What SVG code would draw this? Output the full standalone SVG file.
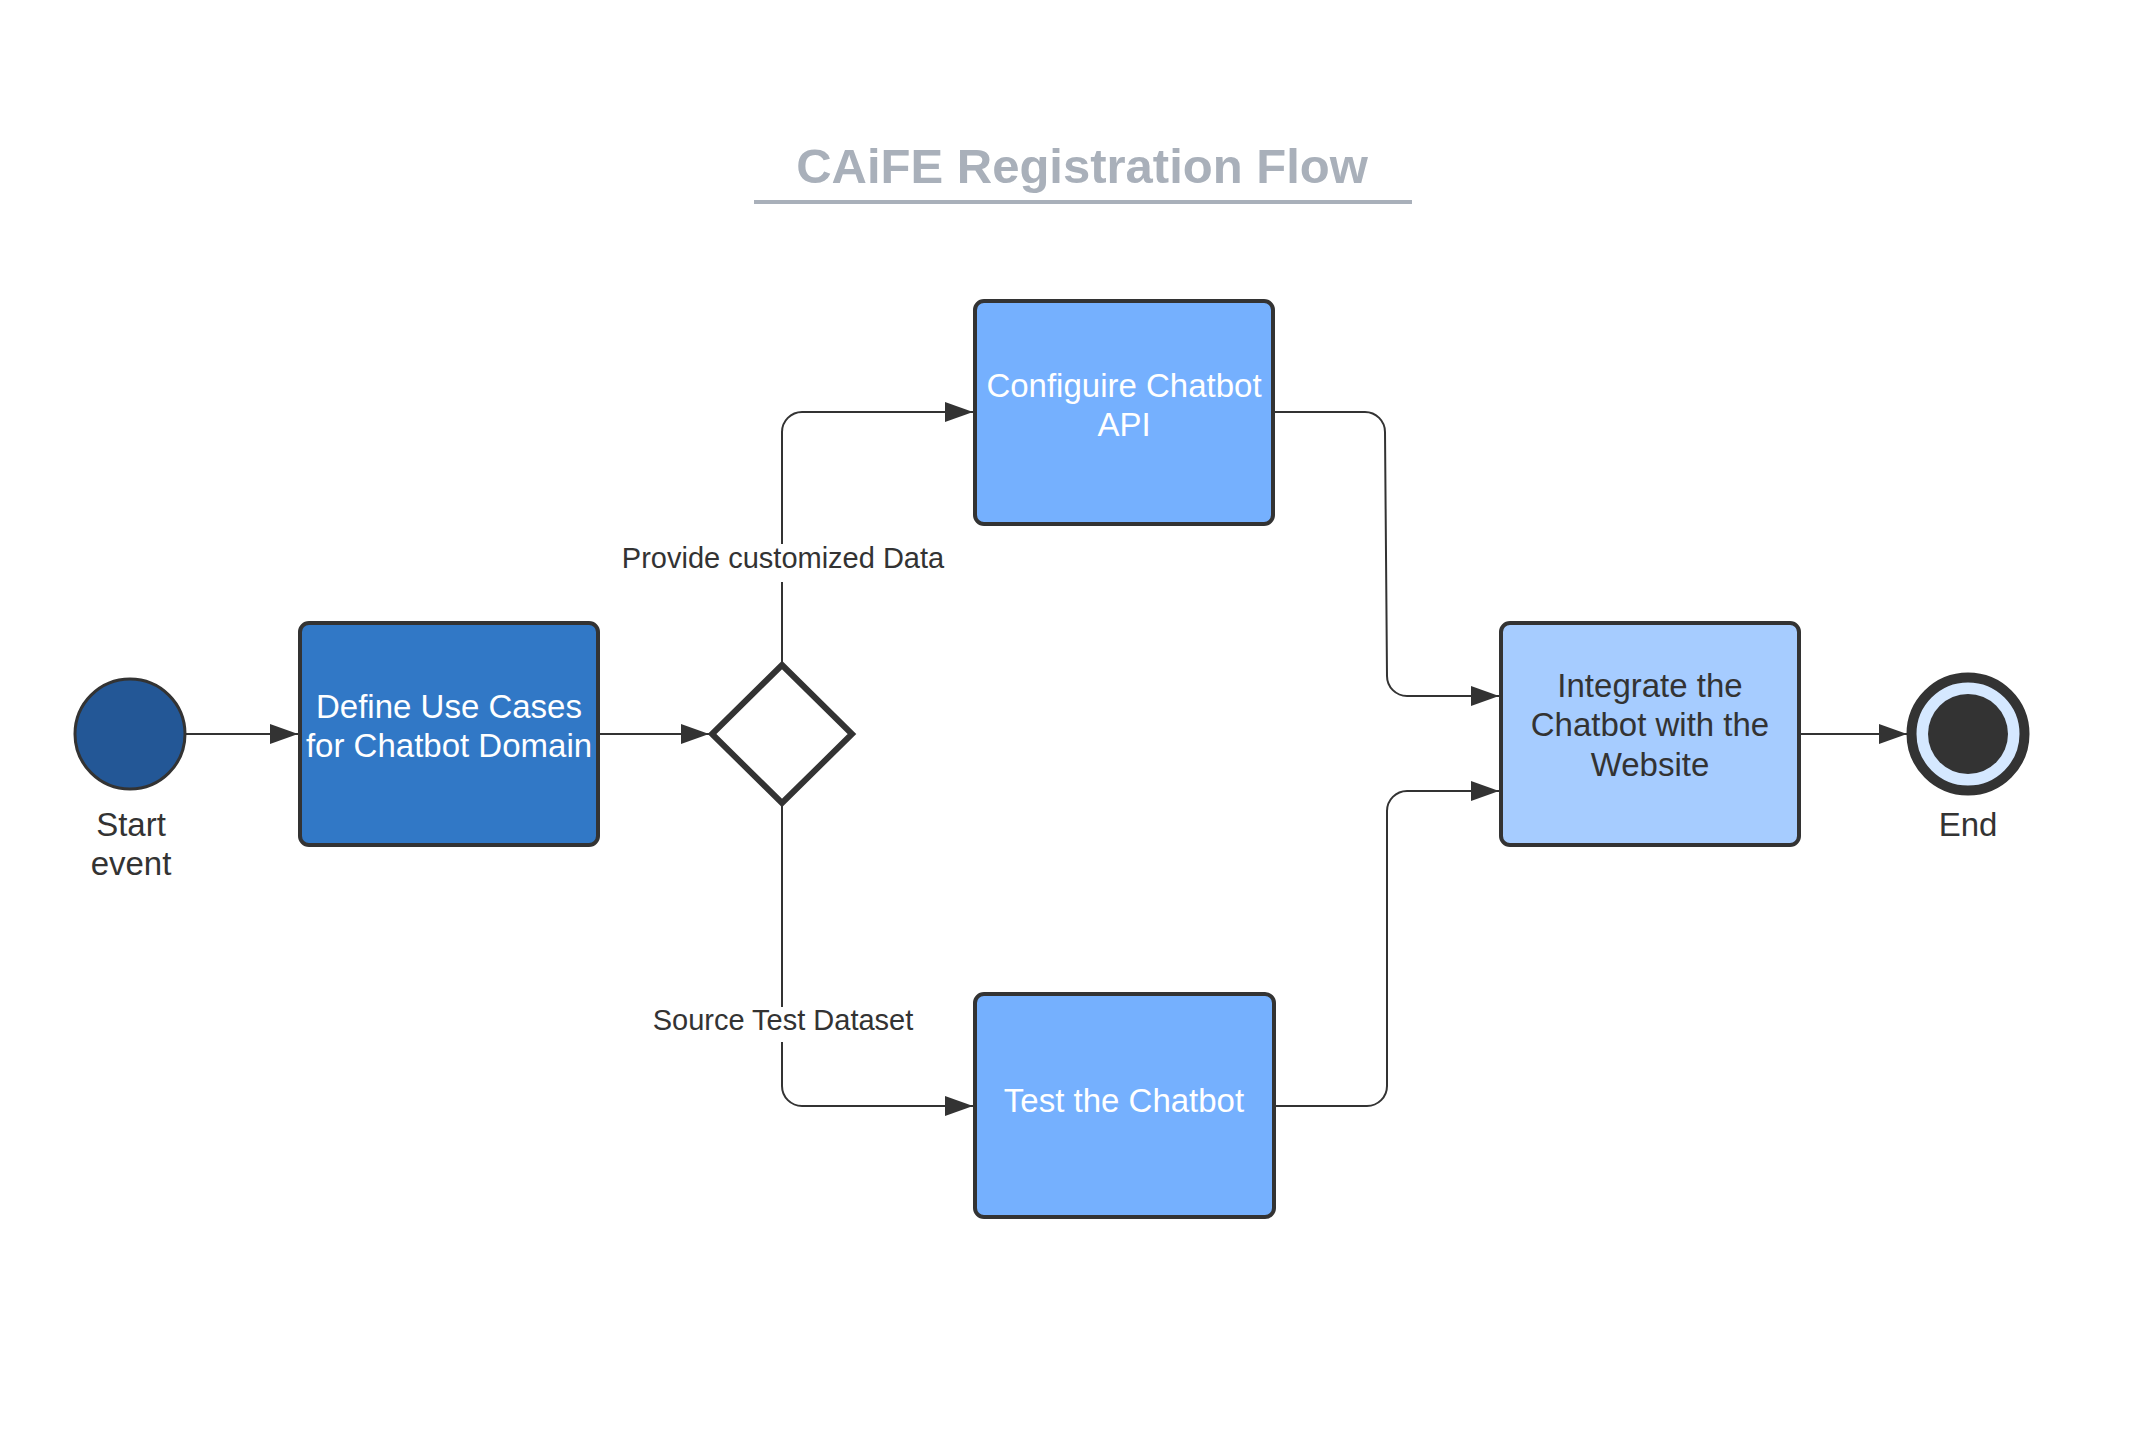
<svg xmlns="http://www.w3.org/2000/svg" width="2154" height="1440" viewBox="0 0 2154 1440">
  <style>
    .box { stroke: #333333; stroke-width: 4; }
    .lbl { font-family: "Liberation Sans", Arial, sans-serif; font-size: 33px; text-anchor: middle; }
    .white { fill: #ffffff; }
    .dark { fill: #333333; }
    .edge { fill: none; stroke: #333333; stroke-width: 2; }
    .elbl { font-family: "Liberation Sans", Arial, sans-serif; font-size: 29px; text-anchor: middle; fill: #333333; }
    .title { font-family: "Liberation Sans", Arial, sans-serif; font-size: 49px; font-weight: bold; text-anchor: middle; fill: #A9B0BA; }
  </style>
  <defs>
    <marker id="arrow" markerUnits="userSpaceOnUse" markerWidth="30" markerHeight="20" refX="28" refY="10" orient="auto">
      <path d="M0,0 L28,10 L0,20 Z" fill="#333333"/>
    </marker>
  </defs>
  <rect x="0" y="0" width="2154" height="1440" fill="#ffffff"/>

  <g id="title">
    <text class="title" x="1082" y="183">CAiFE Registration Flow</text>
    <line x1="754" y1="202" x2="1412" y2="202" stroke="#A9B0BA" stroke-width="4"/>
  </g>

  <g id="connectors">
    <path class="edge" d="M186,734 L298,734" marker-end="url(#arrow)"/>
    <path class="edge" d="M600,734 L709,734" marker-end="url(#arrow)"/>
    <path class="edge" d="M782,662 L782,432 A20,20 0 0 1 802,412 L973,412" marker-end="url(#arrow)"/>
    <path class="edge" d="M782,805 L782,1086 A20,20 0 0 0 802,1106 L973,1106" marker-end="url(#arrow)"/>
    <path class="edge" d="M1275,412 L1365,412 A20,20 0 0 1 1385,432 L1387,676 A20,20 0 0 0 1407,696 L1499,696" marker-end="url(#arrow)"/>
    <path class="edge" d="M1276,1106 L1367,1106 A20,20 0 0 0 1387,1086 L1387,811 A20,20 0 0 1 1407,791 L1499,791" marker-end="url(#arrow)"/>
    <path class="edge" d="M1801,734 L1907,734" marker-end="url(#arrow)"/>
    <g id="label-provide">
      <rect x="619" y="544" width="328" height="38" fill="#ffffff"/>
      <text class="elbl" x="783" y="568">Provide customized Data</text>
    </g>
    <g id="label-source">
      <rect x="649" y="1007" width="268" height="35" fill="#ffffff"/>
      <text class="elbl" x="783" y="1030">Source Test Dataset</text>
    </g>
  </g>

  <g id="start">
    <circle cx="130" cy="734" r="55" fill="#235796" stroke="#333333" stroke-width="3"/>
    <text class="lbl dark" x="131" y="836">Start</text>
    <text class="lbl dark" x="131" y="875">event</text>
  </g>

  <g id="define">
    <rect class="box" x="300" y="623" width="298" height="222" rx="9" fill="#3178C6"/>
    <text class="lbl white" x="449" y="718">Define Use Cases</text>
    <text class="lbl white" x="449" y="757">for Chatbot Domain</text>
  </g>

  <g id="gateway">
    <path d="M782,665 L852,734 L782,803 L712,734 Z" fill="#ffffff" stroke="#333333" stroke-width="6" stroke-linejoin="miter"/>
  </g>

  <g id="configure">
    <rect class="box" x="975" y="301" width="298" height="223" rx="9" fill="#75B0FE"/>
    <text class="lbl white" x="1124" y="397">Configuire Chatbot</text>
    <text class="lbl white" x="1124" y="436">API</text>
  </g>

  <g id="test">
    <rect class="box" x="975" y="994" width="299" height="223" rx="9" fill="#75B0FE"/>
    <text class="lbl white" x="1124" y="1112">Test the Chatbot</text>
  </g>

  <g id="integrate">
    <rect class="box" x="1501" y="623" width="298" height="222" rx="9" fill="#A6CCFF"/>
    <text class="lbl dark" x="1650" y="697">Integrate the</text>
    <text class="lbl dark" x="1650" y="736">Chatbot with the</text>
    <text class="lbl dark" x="1650" y="776">Website</text>
  </g>

  <g id="end">
    <circle cx="1968" cy="734" r="56.5" fill="#D5E8FF" stroke="#333333" stroke-width="10"/>
    <circle cx="1968" cy="734" r="40" fill="#333333"/>
    <text class="lbl dark" x="1968" y="836">End</text>
  </g>
</svg>
